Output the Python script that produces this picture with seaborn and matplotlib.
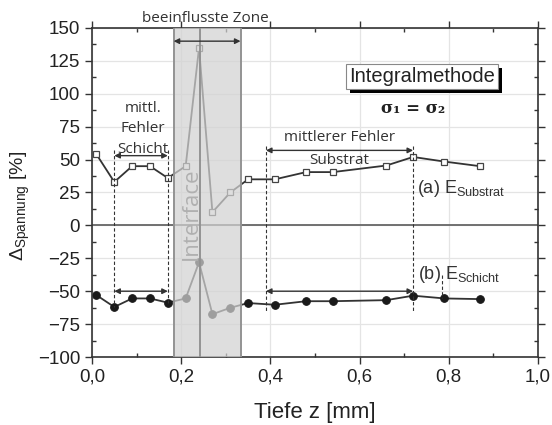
import numpy as np
import pandas as pd
import matplotlib
matplotlib.use("Agg")
import matplotlib.pyplot as plt
import matplotlib.patheffects as pe
from matplotlib.ticker import MultipleLocator, FuncFormatter
import seaborn as sns

# ---- data ----
depth_sub = [0.01, 0.05, 0.09, 0.13, 0.17, 0.21, 0.24, 0.27, 0.31, 0.35, 0.41, 0.48, 0.54, 0.66, 0.72, 0.79, 0.87]
val_sub = [54, 33, 45, 45, 36, 45, 135, 10, 25, 35, 35, 40.5, 40.5, 45.5, 52, 48.5, 45]
depth_sch = [0.01, 0.05, 0.09, 0.13, 0.17, 0.21, 0.24, 0.27, 0.31, 0.35, 0.41, 0.48, 0.54, 0.66, 0.72, 0.79, 0.87]
val_sch = [-53, -62, -55.5, -55.5, -58.7, -55.5, -28, -67.5, -62.6, -59, -60.3, -57.6, -57.6, -56.8, -53.4, -55.5, -56]
x_ticks = [0.0, 0.2, 0.4, 0.6, 0.8, 1.0]
y_ticks = [-100, -75, -50, -25, 0, 25, 50, 75, 100, 125, 150]

band = (0.183, 0.333)
interface_x = 0.243
dash_lines = [(0.05, 57, -62), (0.17, 57, -59), (0.39, 60, -66), (0.72, 60, -66), (0.785, -38, -55)]
arrows = [(0.183, 0.333, 140), (0.05, 0.17, 53), (0.05, 0.17, -50), (0.39, 0.72, 57), (0.39, 0.72, -50)]

sns.set_theme(style="ticks")
plt.rcParams['font.family'] = ['Liberation Sans', 'DejaVu Sans']
plt.rcParams['mathtext.fontset'] = 'custom'
plt.rcParams['mathtext.rm'] = 'Liberation Sans'

fig = plt.figure(figsize=(5.52, 4.25), dpi=100)
ax = fig.add_axes([92/552, 1-357/425, (538-92)/552, (357-28)/425])

df_sub = pd.DataFrame({"z": depth_sub, "v": val_sub})
df_sch = pd.DataFrame({"z": depth_sch, "v": val_sch})
sns.lineplot(data=df_sub, x="z", y="v", ax=ax, color="#333333", lw=1.3, marker="s",
             markersize=5, markerfacecolor="white", markeredgecolor="#444444", markeredgewidth=0.9, zorder=2)
sns.lineplot(data=df_sch, x="z", y="v", ax=ax, color="#333333", lw=1.3, marker="o",
             markersize=5.5, markerfacecolor="#1a1a1a", markeredgecolor="#1a1a1a", zorder=2)

ax.set_xlim(0, 1.0)
ax.set_ylim(-100, 150)
ax.set_xticks(x_ticks)
ax.set_yticks(y_ticks)
ax.xaxis.set_minor_locator(MultipleLocator(0.1))
ax.yaxis.set_minor_locator(MultipleLocator(12.5))
ax.xaxis.set_major_formatter(FuncFormatter(lambda v, p: f"{v:.1f}".replace(".", ",")))
ax.tick_params(axis="both", which="major", labelsize=13.5, length=5, width=1, color="#333333", labelcolor="#222222", direction="out")
ax.tick_params(axis="both", which="minor", length=3, width=1, color="#333333", direction="in")
ax.tick_params(which="both", top=True, right=True)
for s in ax.spines.values():
    s.set_color("#333333")
    s.set_linewidth(1.2)

ax.grid(True, which="major", color="#e4e4e4", lw=0.9, zorder=0)
ax.set_axisbelow(True)
ax.axhline(0, color="#666666", lw=1.3, zorder=1)

# band on top of the lines
ax.axvspan(band[0], band[1], color="#d2d2d2", alpha=0.72, zorder=3, lw=0)
for bx in band:
    ax.axvline(bx, color="#939393", lw=1.4, zorder=4)
ax.axvline(interface_x, color="#939393", lw=1.4, zorder=4)

ax.text(0.223, 9, "Interface", rotation=90, ha="center", va="center", fontsize=16,
        color="#b0b0b0", family=["Open Sans", "DejaVu Sans"], zorder=5)

for x, y0, y1 in dash_lines:
    ax.plot([x, x], [y0, y1], ls=(0, (3, 2)), color="#333333", lw=0.8, zorder=2)

for x0, x1, y in arrows:
    ax.annotate("", xy=(x0, y), xytext=(x1, y),
                arrowprops=dict(arrowstyle="<|-|>", color="#333333", lw=1.0, mutation_scale=8,
                                shrinkA=0, shrinkB=0), zorder=6)

ann_font = ["Open Sans", "DejaVu Sans"]
ax.text(0.255, 157, "beeinflusste Zone", ha="center", va="center", fontsize=11, color="#333333",
        family=ann_font, clip_on=False)
ax.text(0.114, 89, "mittl.", ha="center", va="center", fontsize=11, color="#333333", family=ann_font)
ax.text(0.114, 73.5, "Fehler", ha="center", va="center", fontsize=11, color="#333333", family=ann_font)
ax.text(0.114, 57.5, "Schicht", ha="center", va="center", fontsize=11, color="#333333", family=ann_font)
ax.text(0.555, 66.5, "mittlerer Fehler", ha="center", va="center", fontsize=11, color="#333333", family=ann_font)
ax.text(0.555, 49.5, "Substrat", ha="center", va="center", fontsize=11, color="#333333", family=ann_font)

ax.text(0.728, 28, r"(a) E$_{\mathrm{Substrat}}$", ha="left", va="center", fontsize=13, color="#333333")
ax.text(0.73, -37.5, r"(b) E$_{\mathrm{Schicht}}$", ha="left", va="center", fontsize=13, color="#333333")

t = ax.text(0.74, 113, "Integralmethode", ha="center", va="center", fontsize=14.5, color="#222222",
            bbox=dict(boxstyle="square,pad=0.15", fc="white", ec="#888888", lw=0.8), zorder=7)
t.get_bbox_patch().set_path_effects([pe.withSimplePatchShadow(offset=(3, -3), shadow_rgbFace="black", alpha=1.0)])

ax.text(0.72, 89, "σ₁ = σ₂", ha="center", va="center", fontsize=12, fontweight="bold",
        family=["DejaVu Serif"], color="#222222")

ax.set_xlabel("Tiefe z [mm]", fontsize=16, color="#222222", labelpad=12)
ax.set_ylabel(r"$\Delta_{\mathrm{Spannung}}$ [%]", fontsize=14, color="#222222")
ax.yaxis.set_label_coords(-0.135, 0.459)

fig.savefig("out.png", dpi=100, facecolor="white")
